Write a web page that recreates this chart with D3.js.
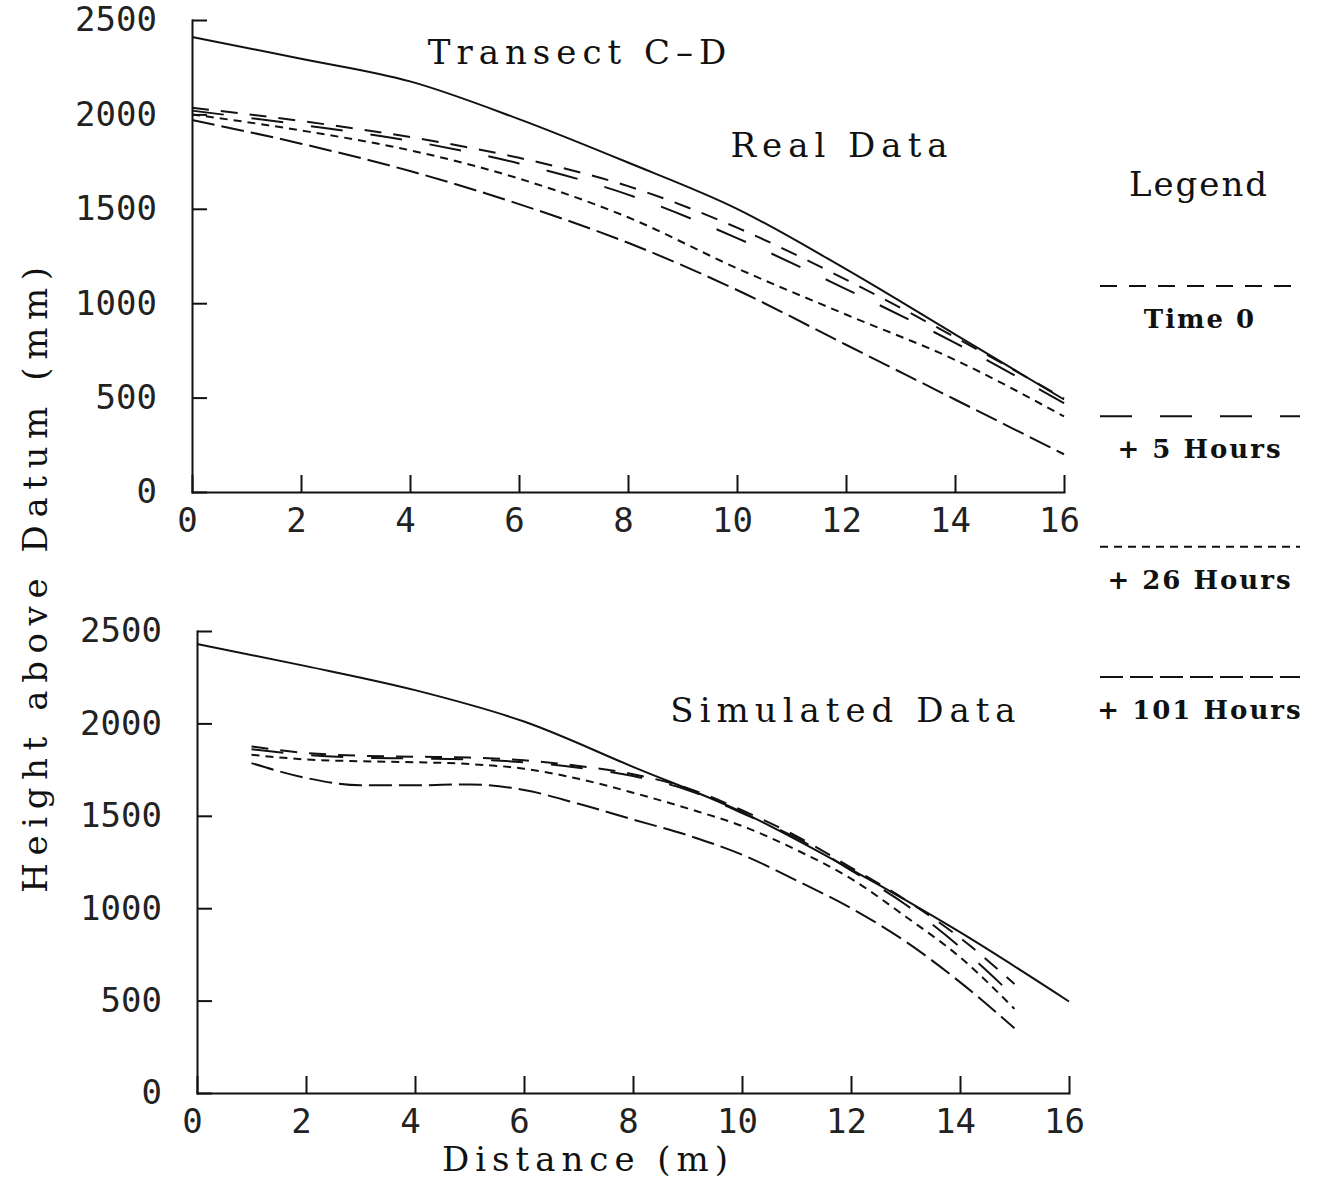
<!DOCTYPE html>
<html>
<head>
  <meta charset="utf-8">
  <style>

  body { margin: 0; background-color: #ffffff; }

  .line {
    fill: none;
    stroke: #111;
    stroke-width: 2px;
  }

  .axis path, .axis line {
    stroke: #111;
    stroke-width: 2px;
  }

  .axis text {
    font-family: "DejaVu Sans Mono", monospace;
    font-size: 34px;
    font-feature-settings: "zero" 1;
    font-variant-numeric: slashed-zero;
    fill: #222;
  }

  .title {
    font-family: "DejaVu Serif", serif;
    font-size: 34px;
    letter-spacing: 6px;
    fill: #111;
  }

  .legend-text {
    font-family: "DejaVu Serif", serif;
    font-weight: bold;
    font-size: 26px;
    letter-spacing: 2px;
    fill: #111;
  }

  </style>
  <script src="https://d3js.org/d3.v7.min.js"></script>
</head>
<body>

<svg id="svg1" width="1325" height="1187"></svg>

<script>

// distances along the transect (m)
var distReal = [0, 2, 4, 6, 8, 10, 12, 14, 16];
var distSim = [1, 2, 3, 4, 5, 6, 7, 8, 9, 10, 11, 12, 13, 14, 15];

// top panel - real data (height above datum, mm)
var realProfile = [2410, 2295, 2175, 1975, 1745, 1500, 1180, 835, 490];
var realTime0   = [2035, 1965, 1880, 1770, 1620, 1400, 1125, 820, 495];
var realHr5     = [2020, 1945, 1860, 1740, 1575, 1345, 1075, 790, 470];
var realHr26    = [2000, 1915, 1810, 1660, 1455, 1185, 940, 700, 400];
var realHr101   = [1970, 1845, 1700, 1525, 1320, 1070, 780, 490, 200];

// bottom panel - simulated data
var simProfile = [2430, 2310, 2180, 2010, 1765, 1520, 1210, 870, 495];
var simTime0   = [1875, 1840, 1825, 1820, 1815, 1800, 1770, 1725, 1650, 1530, 1390, 1220, 1045, 840, 590];
var simHr5     = [1860, 1830, 1815, 1810, 1805, 1790, 1760, 1715, 1640, 1515, 1380, 1205, 1020, 790, 520];
var simHr26    = [1830, 1805, 1795, 1790, 1780, 1755, 1700, 1625, 1540, 1445, 1315, 1160, 955, 735, 455];
var simHr101   = [1785, 1705, 1665, 1665, 1670, 1640, 1565, 1480, 1395, 1290, 1150, 1000, 820, 600, 350];

// ticks and labels
var xTicks = [0, 2, 4, 6, 8, 10, 12, 14, 16];
var yTicks = [0, 500, 1000, 1500, 2000, 2500];
var legendLabels = ["Time 0", "+ 5 Hours", "+ 26 Hours", "+ 101 Hours"];

// dash style for each time step (same order as the legend)
var dashStyle = ["17,12", "32,28", "8,6", "23,7"];

var svg = d3.select("#svg1");

function zip(xs, ys) {
  return xs.map(function(x, i) { return {x: x, y: ys[i]}; });
}

function drawPanel(left, top, width, height, profile, series, seriesDist) {

  // set the ranges
  var x = d3.scaleLinear().domain([0, 16]).range([0, width]);
  var y = d3.scaleLinear().domain([0, 2500]).range([height, 0]);

  var g = svg.append("g")
      .attr("transform", "translate(" + left + "," + top + ")");

  var valueline = d3.line()
      .curve(d3.curveMonotoneX)
      .x(function(d) { return x(d.x); })
      .y(function(d) { return y(d.y); });

  // x axis, ticks pointing inward
  g.append("g")
      .attr("class", "axis")
      .attr("transform", "translate(0," + height + ")")
      .call(d3.axisBottom(x).tickValues(xTicks).tickFormat(d3.format("d"))
          .tickSizeInner(-17).tickSizeOuter(0).tickPadding(16))
    .selectAll("text")
      .attr("dx", -5);

  // y axis
  g.append("g")
      .attr("class", "axis")
      .call(d3.axisLeft(y).tickValues(yTicks).tickFormat(d3.format("d"))
          .tickSizeInner(-15).tickSizeOuter(0).tickPadding(35));

  g.selectAll(".axis .domain").attr("stroke-linecap", "square");

  // solid profile
  g.append("path")
      .datum(zip(distReal, profile))
      .attr("class", "line")
      .attr("d", valueline);

  // dashed time steps
  series.forEach(function(s, i) {
    g.append("path")
        .datum(zip(seriesDist, s))
        .attr("class", "line")
        .style("stroke-dasharray", dashStyle[i])
        .attr("d", valueline);
  });
}

drawPanel(192, 20, 872, 472, realProfile,
    [realTime0, realHr5, realHr26, realHr101], distReal);

drawPanel(197, 631, 872, 462, simProfile,
    [simTime0, simHr5, simHr26, simHr101], distSim);

// titles
svg.append("text").attr("class", "title")
    .attr("x", 580).attr("y", 64).attr("text-anchor", "middle")
    .text("Transect C\u2013D");

svg.append("text").attr("class", "title")
    .attr("x", 842).attr("y", 157).attr("text-anchor", "middle")
    .text("Real Data");

svg.append("text").attr("class", "title")
    .attr("x", 846).attr("y", 722).attr("text-anchor", "middle")
    .text("Simulated Data");

svg.append("text").attr("class", "title")
    .attr("x", 588).attr("y", 1171).attr("text-anchor", "middle")
    .text("Distance (m)");

svg.append("text").attr("class", "title")
    .attr("transform", "translate(47,576) rotate(-90)")
    .attr("text-anchor", "middle")
    .style("letter-spacing", "7.6px")
    .text("Height above Datum (mm)");

// legend
svg.append("text").attr("class", "title")
    .attr("x", 1199).attr("y", 196).attr("text-anchor", "middle")
    .style("letter-spacing", "2px")
    .text("Legend");

var legendY = d3.scalePoint().domain(legendLabels).range([286, 677]);

var legend = svg.selectAll(".legend")
    .data(legendLabels)
  .enter()
    .append("g")
    .attr("class", "legend")
    .attr("transform", function(d) { return "translate(1100," + legendY(d) + ")"; });

legend.append("line")
    .attr("x1", 0).attr("x2", 200)
    .attr("stroke", "#111")
    .attr("stroke-width", 2)
    .style("stroke-dasharray", function(d, i) { return dashStyle[i]; });

legend.append("text")
    .attr("class", "legend-text")
    .attr("x", 100).attr("y", 42)
    .attr("text-anchor", "middle")
    .text(function(d) { return d; });

</script>

</body>
</html>
